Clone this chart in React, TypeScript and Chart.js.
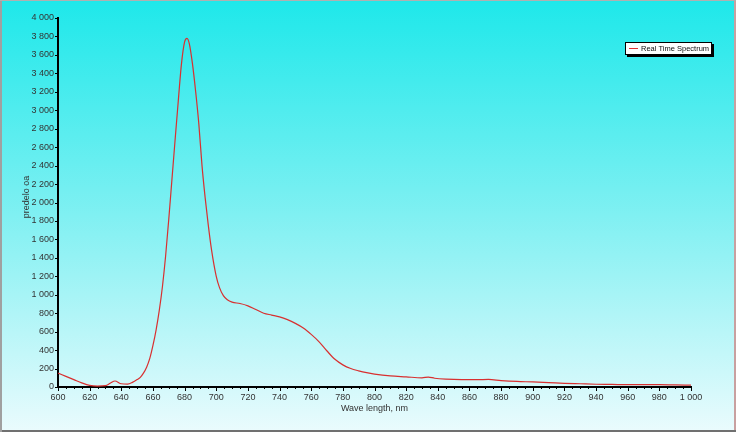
import React, { useEffect, useRef } from "react";
import { Chart, registerables } from "chart.js";

Chart.register(...registerables);

const wavelengths = [
  600, 605, 610, 615, 620, 625, 630, 633, 636, 640, 644, 647, 650, 652, 654, 656, 658, 660, 662, 664, 666, 668, 670, 672, 674, 676,
  678, 680, 681.5, 683, 685, 687, 689, 691, 693, 695, 697, 700, 702, 704.5, 707, 710, 715, 720, 725, 730, 735, 740, 745, 750,
  755, 760, 765, 770, 775, 780, 785, 790, 795, 800, 810, 820, 830, 834, 838, 845, 855, 865, 872, 880, 890, 900, 910, 920, 930,
  940, 950, 960, 970, 980, 990, 1000,
];
const intensity = [
  150, 115, 80, 45, 18, 10, 15, 40, 65, 35, 32, 50, 80, 105, 150, 215, 310, 450, 620, 830, 1090, 1420, 1820, 2250, 2680, 3100,
  3500, 3740, 3780, 3720, 3500, 3200, 2850, 2400, 2050, 1750, 1490, 1200, 1080, 990, 945, 920, 905, 880, 840, 800, 780, 760, 730, 690,
  640, 570, 490, 390, 300, 240, 200, 175, 155, 140, 120, 110, 100, 108, 95, 85, 80, 80, 82, 70, 60, 55, 48, 40, 35,
  30, 28, 25, 25, 25, 22, 20,
];
const seriesName = "Real Time Spectrum";
const xTitle = "Wave length, nm";
const yTitle = "predelo oa";

const FONT = "'Liberation Sans', Arial, sans-serif";

const fmt = (v: number) => {
  const s = String(Math.round(v));
  return s.replace(/\B(?=(\d{3})+(?!\d))/g, " ");
};

const extrasPlugin = {
  id: "extras",
  afterDraw(chart: any) {
    const ctx = chart.ctx;
    const xs = chart.scales.x;
    const ys = chart.scales.y;
    const { bottom, left, right } = chart.chartArea;
    ctx.save();
    ctx.strokeStyle = "#000";
    ctx.lineWidth = 1;
    for (let v = 600; v <= 1000; v += 5) {
      const px = Math.round(xs.getPixelForValue(v)) + 0.5;
      const len = v % 20 === 0 ? 4 : 2;
      ctx.beginPath();
      ctx.moveTo(px, bottom);
      ctx.lineTo(px, bottom + len);
      ctx.stroke();
    }
    for (let v = 0; v <= 4000; v += 200) {
      const py = Math.round(ys.getPixelForValue(v)) + 0.5;
      ctx.beginPath();
      ctx.moveTo(left, py);
      ctx.lineTo(left - 3, py);
      ctx.stroke();
    }
    ctx.fillStyle = "#333";
    ctx.font = `9px ${FONT}`;
    ctx.textAlign = "center";
    ctx.textBaseline = "middle";
    ctx.fillText(xTitle, (left + right) / 2, 409);
    ctx.save();
    ctx.translate(27, 197);
    ctx.rotate(-Math.PI / 2);
    ctx.fillText(yTitle, 0, 0);
    ctx.restore();
    const bx = 625, by = 42, bw = 87, bh = 13;
    ctx.fillStyle = "#000";
    ctx.fillRect(bx + 2, by + 2, bw, bh);
    ctx.fillStyle = "#fff";
    ctx.fillRect(bx, by, bw, bh);
    ctx.strokeStyle = "#000";
    ctx.strokeRect(bx + 0.5, by + 0.5, bw - 1, bh - 1);
    ctx.strokeStyle = "#e03030";
    ctx.beginPath();
    ctx.moveTo(bx + 4, by + 6.5);
    ctx.lineTo(bx + 13, by + 6.5);
    ctx.stroke();
    ctx.fillStyle = "#111";
    ctx.font = `7.5px ${FONT}`;
    ctx.textAlign = "left";
    ctx.textBaseline = "middle";
    ctx.fillText(seriesName, bx + 16, by + 7);
    ctx.restore();
  },
};

export default function App() {
  const ref = useRef<HTMLCanvasElement>(null);
  useEffect(() => {
    document.body.style.margin = "0";
    const chart = new Chart(ref.current!, {
      type: "line",
      data: {
        datasets: [
          {
            label: seriesName,
            data: wavelengths.map((x, i) => ({ x, y: intensity[i] })),
            borderColor: "#d83030",
            borderWidth: 1.2,
            pointRadius: 0,
            tension: 0.4,
            cubicInterpolationMode: "monotone",
            fill: false,
          },
        ],
      },
      options: {
        animation: false,
        responsive: false,
        maintainAspectRatio: false,
        layout: { padding: { top: 18, right: 45, left: 0, bottom: 0 } },
        plugins: { legend: { display: false }, tooltip: { enabled: false } },
        scales: {
          x: {
            type: "linear",
            min: 600,
            max: 1000,
            afterFit: (s: any) => {
              s.height = 45;
            },
            ticks: {
              stepSize: 20,
              autoSkip: false,
              maxRotation: 0,
              padding: 5,
              color: "#333",
              font: { size: 9, family: FONT },
              callback: (v: any) => fmt(Number(v)),
            },
            grid: { drawOnChartArea: false, drawTicks: false, tickLength: 4 },
            border: { display: true, color: "#000", width: 2 },
            title: { display: false },
          },
          y: {
            min: 0,
            max: 4000,
            afterFit: (s: any) => {
              s.width = 58;
            },
            ticks: {
              stepSize: 200,
              autoSkip: false,
              padding: 4,
              color: "#333",
              font: { size: 9, family: FONT },
              callback: (v: any) => fmt(Number(v)),
            },
            grid: { drawOnChartArea: false, drawTicks: false, tickLength: 4 },
            border: { display: true, color: "#000", width: 2 },
            title: { display: false },
          },
        },
      },
      plugins: [extrasPlugin],
    });
    return () => chart.destroy();
  }, []);
  return (
    <div
      style={{
        position: "relative",
        width: 736,
        height: 432,
        background: "linear-gradient(to bottom, #1ee8ea 0%, #80f0f2 50%, #eafbfd 100%)",
        boxShadow: "inset 0 1px 0 #b0b0b0, inset 2px 0 0 #a0a0a0, inset 0 -2px 0 #707070, inset -2px 0 0 #c8a0a0",
        overflow: "hidden",
      }}
    >
      <canvas ref={ref} width={736} height={432} style={{ position: "absolute", left: 0, top: 0 }} />
    </div>
  );
}
